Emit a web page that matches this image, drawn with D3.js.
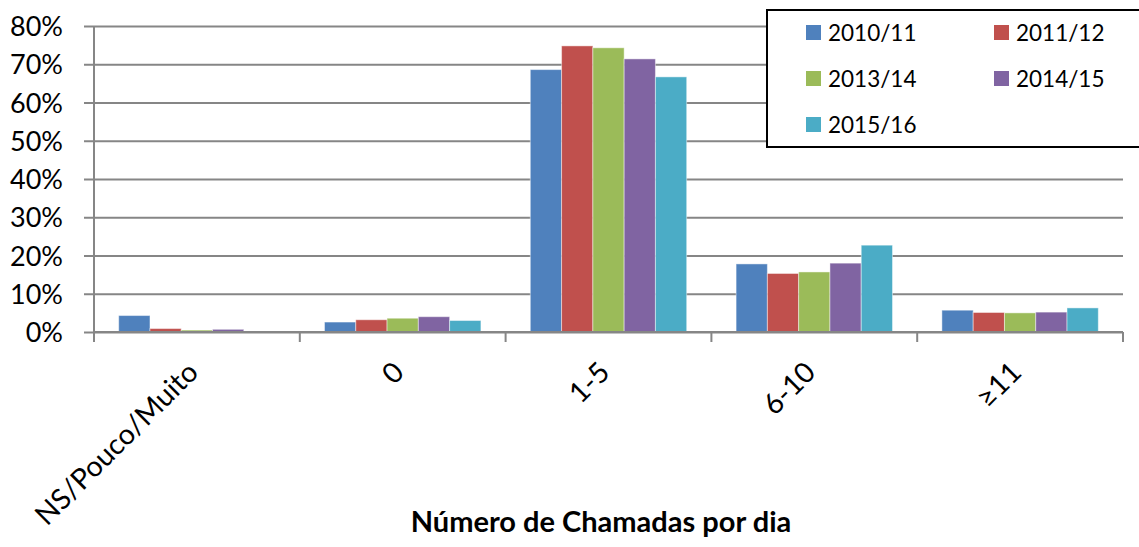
<!DOCTYPE html>
<html>
<head>
<meta charset="utf-8">
<script src="https://cdn.jsdelivr.net/npm/d3@7"></script>
<style>
    body { margin: 0; background: #fff; }
    text { font-family: Lato, "Open Sans", sans-serif; fill: #000; }
</style>
</head>
<body>
<div id="chart"></div>
<script>
// data
let categories = ["NS/Pouco/Muito", "0", "1-5", "6-10", "≥11"];
let seriesNames = ["2010/11", "2011/12", "2013/14", "2014/15", "2015/16"];
let seriesColors = ["#4F81BD", "#C0504D", "#9BBB59", "#8064A2", "#4BACC6"];
let s2010 = [0.043, 0.026, 0.686, 0.178, 0.057];
let s2011 = [0.009, 0.032, 0.748, 0.153, 0.051];
let s2013 = [0.005, 0.036, 0.743, 0.157, 0.050];
let s2014 = [0.007, 0.040, 0.714, 0.180, 0.052];
let s2015 = [0.002, 0.030, 0.667, 0.227, 0.063];
let yTicks = [0, 0.1, 0.2, 0.3, 0.4, 0.5, 0.6, 0.7, 0.8];
let xTitle = "Número de Chamadas por dia";

let seriesValues = [s2010, s2011, s2013, s2014, s2015];

let width = 1139, height = 547;
let margin = {top: 26, right: 16, bottom: 215, left: 94};
let plotW = width - margin.left - margin.right;
let plotH = height - margin.top - margin.bottom;

let svg = d3.select("#chart").append("svg")
    .attr("width", width)
    .attr("height", height);

let g = svg.append("g")
    .attr("transform", `translate(${margin.left},${margin.top})`);

let x0 = d3.scaleBand()
    .domain(categories)
    .range([0, plotW])
    .paddingInner(0.24)
    .paddingOuter(0.12);

let x1 = d3.scaleBand()
    .domain(seriesNames)
    .range([0, x0.bandwidth()]);

let y = d3.scaleLinear()
    .domain([0, 0.8])
    .range([plotH, 0]);

// y axis + gridlines
let yAxis = g.append("g")
    .call(d3.axisLeft(y).tickValues(yTicks).tickFormat(d3.format(".0%")).tickSize(0).tickPadding(31));
yAxis.select(".domain").remove();
yAxis.selectAll(".tick line")
    .attr("x1", -10)
    .attr("x2", plotW)
    .attr("stroke", "#868686")
    .attr("stroke-width", 2);
yAxis.selectAll(".tick text")
    .attr("font-size", 27)
    .attr("font-family", "Lato")
    .attr("dy", "0.36em");

g.append("line")
    .attr("x1", 0).attr("x2", 0)
    .attr("y1", 0).attr("y2", plotH + 10)
    .attr("stroke", "#868686")
    .attr("stroke-width", 2);

// category boundary ticks
let step = x0.step();
let bounds = d3.range(categories.length + 1).map(i => x0(categories[0]) - x0.paddingInner() * step / 2 + i * step);
g.selectAll(".xtick")
    .data(bounds)
    .enter()
    .append("line")
    .attr("class", "xtick")
    .attr("x1", d => d).attr("x2", d => d)
    .attr("y1", plotH).attr("y2", plotH + 10)
    .attr("stroke", "#868686")
    .attr("stroke-width", 2);

// bars
let groups = g.selectAll(".cat")
    .data(categories)
    .enter()
    .append("g")
    .attr("class", "cat")
    .attr("transform", d => `translate(${x0(d)},0)`);

groups.selectAll("rect")
    .data((c, i) => seriesNames.map((s, j) => ({series: s, color: seriesColors[j], value: seriesValues[j][i]})))
    .enter()
    .append("rect")
    .attr("x", d => x1(d.series))
    .attr("width", x1.bandwidth())
    .attr("y", d => y(d.value))
    .attr("height", d => plotH - y(d.value))
    .attr("fill", d => d.color)
    .attr("stroke", "rgba(255,255,255,0.45)")
    .attr("stroke-width", 1);

// x axis line (drawn over bar bottoms)
g.append("line")
    .attr("x1", 0).attr("x2", plotW)
    .attr("y1", plotH).attr("y2", plotH)
    .attr("stroke", "#868686")
    .attr("stroke-width", 2);

// rotated category labels
g.selectAll(".xlabel")
    .data(categories)
    .enter()
    .append("text")
    .attr("class", "xlabel")
    .attr("transform", d => `translate(${x0(d) + x0.bandwidth() / 2 + 3},${plotH + 42}) rotate(-45)`)
    .attr("text-anchor", "end")
    .attr("font-size", 28.5)
    .text(d => d);

// axis title
svg.append("text")
    .attr("x", 601)
    .attr("y", 532)
    .attr("text-anchor", "middle")
    .attr("font-size", 29)
    .attr("font-weight", "bold")
    .text(xTitle);

// legend
let legend = svg.append("g").attr("transform", "translate(767,10)");
legend.append("rect")
    .attr("width", 390)
    .attr("height", 137)
    .attr("fill", "#fff")
    .attr("stroke", "#000")
    .attr("stroke-width", 2);

let items = legend.selectAll(".item")
    .data(seriesNames)
    .enter()
    .append("g")
    .attr("class", "item")
    .attr("transform", (d, i) => `translate(${39 + (i % 2) * 188},${22.5 + Math.floor(i / 2) * 46})`);

items.append("rect")
    .attr("y", -7.5)
    .attr("width", 15)
    .attr("height", 15)
    .attr("fill", (d, i) => seriesColors[i]);

items.append("text")
    .attr("x", 22)
    .attr("dy", "0.36em")
    .attr("font-size", 22.5)
    .text(d => d);
</script>
</body>
</html>
